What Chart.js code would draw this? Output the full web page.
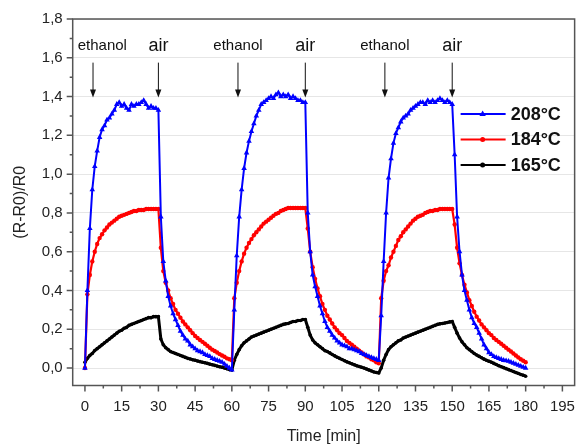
<!DOCTYPE html>
<html>
<head>
<meta charset="utf-8">
<script src="https://cdn.jsdelivr.net/npm/chart.js@4/dist/chart.umd.min.js"></script>
<style>
  html, body { margin: 0; padding: 0; background: #fff; }
  canvas { display: block; }
</style>
</head>
<body>
<canvas id="sensorChart" width="587" height="447"></canvas>
<script>
// sampled every minute, t = 0 .. 180 min
const temp208 = [
  0.00, 0.40, 0.72, 0.92, 1.04, 1.12, 1.19, 1.23, 1.25, 1.28,
  1.29, 1.31, 1.33, 1.36, 1.37, 1.35, 1.36, 1.34, 1.33, 1.36,
  1.35, 1.36, 1.36, 1.37, 1.38, 1.36, 1.34, 1.35, 1.34, 1.34,
  1.33, 0.78, 0.55, 0.45, 0.37, 0.32, 0.28, 0.25, 0.22, 0.19,
  0.17, 0.15, 0.14, 0.12, 0.11, 0.10, 0.09, 0.085, 0.08, 0.07,
  0.065, 0.06, 0.05, 0.045, 0.04, 0.035, 0.03, 0.02, 0.01, 0.00,
  -0.01, 0.30, 0.58, 0.78, 0.92, 1.03, 1.11, 1.17, 1.22, 1.26,
  1.30, 1.33, 1.36, 1.37, 1.38, 1.39, 1.40, 1.39, 1.41, 1.42,
  1.40, 1.41, 1.40, 1.41, 1.39, 1.40, 1.39, 1.38, 1.38, 1.37,
  1.37, 0.80, 0.60, 0.48, 0.42, 0.37, 0.32, 0.28, 0.24, 0.21,
  0.19, 0.17, 0.155, 0.14, 0.13, 0.12, 0.115, 0.11, 0.10, 0.10,
  0.095, 0.09, 0.085, 0.075, 0.07, 0.065, 0.06, 0.055, 0.05, 0.045,
  0.04, 0.27, 0.55, 0.80, 0.98, 1.08, 1.16, 1.21, 1.24, 1.27,
  1.29, 1.30, 1.31, 1.33, 1.34, 1.35, 1.36, 1.37, 1.37, 1.36,
  1.38, 1.37, 1.38, 1.37, 1.38, 1.39, 1.38, 1.37, 1.38, 1.37,
  1.36, 1.10, 0.78, 0.60, 0.48, 0.40, 0.35, 0.30, 0.26, 0.23,
  0.21, 0.18, 0.15, 0.12, 0.10, 0.08, 0.07, 0.06, 0.055, 0.05,
  0.045, 0.04, 0.038, 0.035, 0.03, 0.025, 0.02, 0.015, 0.01, 0.005,
  0.00
];

const temp184 = [
  0.00, 0.38, 0.48, 0.55, 0.60, 0.64, 0.67, 0.69, 0.71, 0.725,
  0.74, 0.75, 0.76, 0.77, 0.78, 0.785, 0.79, 0.795, 0.80, 0.805,
  0.81, 0.81, 0.815, 0.815, 0.815, 0.82, 0.82, 0.82, 0.82, 0.82,
  0.82, 0.62, 0.50, 0.44, 0.40, 0.36, 0.33, 0.30, 0.28, 0.26,
  0.24, 0.225, 0.21, 0.195, 0.18, 0.165, 0.155, 0.145, 0.135, 0.125,
  0.115, 0.105, 0.095, 0.088, 0.08, 0.072, 0.065, 0.058, 0.05, 0.045,
  0.04, 0.36, 0.44, 0.50, 0.55, 0.59, 0.62, 0.645, 0.665, 0.685,
  0.70, 0.715, 0.73, 0.745, 0.755, 0.765, 0.775, 0.785, 0.795, 0.80,
  0.81, 0.815, 0.82, 0.825, 0.825, 0.825, 0.825, 0.825, 0.825, 0.825,
  0.825, 0.72, 0.60, 0.52, 0.46, 0.41, 0.37, 0.33, 0.30, 0.27,
  0.25, 0.23, 0.21, 0.195, 0.18, 0.17, 0.155, 0.14, 0.13, 0.12,
  0.11, 0.10, 0.09, 0.08, 0.07, 0.06, 0.055, 0.045, 0.04, 0.03,
  0.025, 0.36, 0.45, 0.50, 0.53, 0.57, 0.60, 0.63, 0.66, 0.68,
  0.70, 0.715, 0.73, 0.745, 0.76, 0.77, 0.78, 0.785, 0.79, 0.80,
  0.805, 0.81, 0.81, 0.815, 0.815, 0.82, 0.82, 0.82, 0.82, 0.82,
  0.82, 0.74, 0.62, 0.54, 0.48, 0.43, 0.39, 0.35, 0.32, 0.29,
  0.265, 0.245, 0.225, 0.21, 0.195, 0.18, 0.17, 0.155, 0.145, 0.135,
  0.125, 0.115, 0.105, 0.095, 0.085, 0.075, 0.065, 0.055, 0.045, 0.038,
  0.03
];

const temp165 = [
  0.03, 0.05, 0.065, 0.075, 0.09, 0.10, 0.11, 0.12, 0.13, 0.14,
  0.15, 0.16, 0.17, 0.18, 0.19, 0.195, 0.205, 0.21, 0.22, 0.225,
  0.23, 0.235, 0.24, 0.245, 0.25, 0.255, 0.26, 0.26, 0.265, 0.265,
  0.265, 0.15, 0.12, 0.105, 0.095, 0.085, 0.08, 0.075, 0.07, 0.065,
  0.06, 0.055, 0.05, 0.047, 0.043, 0.04, 0.036, 0.033, 0.03, 0.027,
  0.024, 0.02, 0.017, 0.014, 0.01, 0.007, 0.004, 0.00, -0.004, -0.008,
  -0.01, 0.04, 0.07, 0.095, 0.115, 0.13, 0.14, 0.15, 0.16, 0.165,
  0.17, 0.175, 0.18, 0.185, 0.19, 0.195, 0.20, 0.205, 0.21, 0.215,
  0.22, 0.225, 0.228, 0.23, 0.235, 0.24, 0.24, 0.245, 0.245, 0.25,
  0.25, 0.21, 0.17, 0.145, 0.13, 0.12, 0.11, 0.10, 0.09, 0.085,
  0.078, 0.07, 0.063, 0.056, 0.05, 0.044, 0.038, 0.032, 0.027, 0.022,
  0.017, 0.012, 0.008, 0.004, 0.00, -0.005, -0.01, -0.015, -0.02, -0.023,
  -0.025, 0.00, 0.04, 0.07, 0.095, 0.11, 0.12, 0.13, 0.14, 0.145,
  0.155, 0.16, 0.165, 0.17, 0.175, 0.18, 0.185, 0.19, 0.195, 0.20,
  0.205, 0.21, 0.215, 0.22, 0.225, 0.228, 0.23, 0.232, 0.235, 0.238,
  0.24, 0.21, 0.18, 0.155, 0.135, 0.12, 0.105, 0.095, 0.085, 0.075,
  0.067, 0.06, 0.053, 0.046, 0.04, 0.035, 0.03, 0.024, 0.018, 0.012,
  0.007, 0.002, -0.003, -0.008, -0.013, -0.018, -0.023, -0.028, -0.033, -0.037,
  -0.042
];

const seriesLabels = ['208°C', '184°C', '165°C'];

const xTickValues = [0, 15, 30, 45, 60, 75, 90, 105, 120, 135, 150, 165, 180, 195];
const yTickValues = [0, 0.2, 0.4, 0.6, 0.8, 1.0, 1.2, 1.4, 1.6, 1.8];

// gas switching events
const eventTimes = [3.3, 30, 62.5, 90, 122.5, 150];
const eventLabels = ['ethanol', 'air', 'ethanol', 'air', 'ethanol', 'air'];

const time = temp208.map((_, i) => i);
const toPoints = arr => arr.map((v, i) => ({ x: time[i], y: v }));

const FONT = "'Liberation Sans', Arial, sans-serif";
const AXIS = '#555';

function midpoints(vals) {
    const out = [];
    for (let i = 0; i < vals.length - 1; i++) out.push((vals[i] + vals[i + 1]) / 2);
    return out;
}
const xMinor = midpoints(xTickValues);
const yMinor = midpoints(yTickValues);

const overlay = {
    id: 'overlay',
    afterDraw(chart) {
        const { ctx, chartArea: a, scales: { x, y } } = chart;
        ctx.save();

        // frame
        ctx.strokeStyle = AXIS;
        ctx.lineWidth = 1.5;
        ctx.strokeRect(a.left, a.top, a.right - a.left, a.bottom - a.top);

        // tick marks, outward
        ctx.beginPath();
        yTickValues.forEach(v => { const p = y.getPixelForValue(v); ctx.moveTo(a.left, p); ctx.lineTo(a.left - 6, p); });
        yMinor.forEach(v => { const p = y.getPixelForValue(v); ctx.moveTo(a.left, p); ctx.lineTo(a.left - 3, p); });
        xTickValues.forEach(v => { const p = x.getPixelForValue(v); ctx.moveTo(p, a.bottom); ctx.lineTo(p, a.bottom + 6); });
        xMinor.forEach(v => { const p = x.getPixelForValue(v); ctx.moveTo(p, a.bottom); ctx.lineTo(p, a.bottom + 3); });
        ctx.stroke();

        // event arrows and labels
        ctx.fillStyle = '#111';
        ctx.strokeStyle = '#111';
        ctx.lineWidth = 1;
        ctx.textAlign = 'center';
        ctx.textBaseline = 'middle';
        eventTimes.forEach((t, i) => {
            const px = x.getPixelForValue(t);
            const yTop = y.getPixelForValue(1.575);
            const yTip = y.getPixelForValue(1.395);
            ctx.beginPath();
            ctx.moveTo(px, yTop);
            ctx.lineTo(px, yTip - 6);
            ctx.stroke();
            ctx.beginPath();
            ctx.moveTo(px - 3, yTip - 8);
            ctx.lineTo(px + 3, yTip - 8);
            ctx.lineTo(px, yTip);
            ctx.closePath();
            ctx.fill();

            const isAir = eventLabels[i] === 'air';
            ctx.font = (isAir ? '18px ' : '15px ') + FONT;
            const w = ctx.measureText(eventLabels[i]).width;
            let cx = px;
            if (cx - w / 2 < a.left + 5) cx = a.left + 5 + w / 2;
            ctx.fillText(eventLabels[i], cx, y.getPixelForValue(1.66));
        });

        // legend
        const lx = a.right - 114;
        const ly = a.top + 95;
        chart.data.datasets.forEach((ds, i) => {
            const ry = ly + i * 25.5;
            ctx.strokeStyle = ds.borderColor;
            ctx.fillStyle = ds.borderColor;
            ctx.lineWidth = 2;
            ctx.beginPath();
            ctx.moveTo(lx, ry);
            ctx.lineTo(lx + 45, ry);
            ctx.stroke();
            const mx = lx + 22;
            ctx.beginPath();
            if (ds.pointStyle === 'triangle') {
                ctx.moveTo(mx, ry - 3.5);
                ctx.lineTo(mx + 3.2, ry + 2);
                ctx.lineTo(mx - 3.2, ry + 2);
                ctx.closePath();
            } else {
                ctx.arc(mx, ry, 2.5, 0, Math.PI * 2);
            }
            ctx.fill();
            ctx.fillStyle = '#111';
            ctx.font = 'bold 18px ' + FONT;
            ctx.textAlign = 'left';
            ctx.fillText(ds.label, lx + 50, ry + 1);
        });

        ctx.restore();
    }
};

new Chart(document.getElementById('sensorChart').getContext('2d'), {
    type: 'line',
    data: {
        datasets: [
            {
                label: seriesLabels[0],
                data: toPoints(temp208),
                borderColor: '#0000ff',
                backgroundColor: '#0000ff',
                borderWidth: 2,
                pointStyle: 'triangle',
                pointRadius: 3.2,
                pointBorderWidth: 0,
                tension: 0
            },
            {
                label: seriesLabels[1],
                data: toPoints(temp184),
                borderColor: '#ff0000',
                backgroundColor: '#ff0000',
                borderWidth: 2.2,
                pointStyle: 'circle',
                pointRadius: 2.2,
                pointBorderWidth: 0,
                tension: 0
            },
            {
                label: seriesLabels[2],
                data: toPoints(temp165),
                borderColor: '#000000',
                backgroundColor: '#000000',
                borderWidth: 3,
                pointStyle: 'circle',
                pointRadius: 1.8,
                pointBorderWidth: 0,
                tension: 0
            }
        ]
    },
    options: {
        responsive: false,
        animation: false,
        devicePixelRatio: 1,
        layout: { padding: { top: 13, right: 1.3, left: 0, bottom: 0 } },
        plugins: {
            legend: { display: false },
            tooltip: { enabled: false }
        },
        scales: {
            x: {
                type: 'linear',
                min: -5,
                max: 200,
                afterFit: s => { s.height = 61.5; },
                afterBuildTicks: s => { s.ticks = xTickValues.map(value => ({ value })); },
                grid: { display: false, drawTicks: false },
                border: { display: false },
                ticks: {
                    autoSkip: false,
                    maxRotation: 0,
                    padding: 12,
                    color: '#222',
                    font: { family: FONT, size: 15 }
                },
                title: {
                    display: true,
                    text: 'Time [min]',
                    color: '#222',
                    font: { family: FONT, size: 16 },
                    padding: { top: 0, bottom: 1 }
                }
            },
            y: {
                min: -0.09,
                max: 1.8,
                afterFit: s => { s.width = 72.7; },
                afterBuildTicks: s => { s.ticks = yTickValues.map(value => ({ value })); },
                grid: { color: '#e6e6e6', lineWidth: 1, drawTicks: false },
                border: { display: false },
                ticks: {
                    autoSkip: false,
                    padding: 10,
                    color: '#222',
                    font: { family: FONT, size: 15 },
                    callback: v => v.toFixed(1).replace('.', ',')
                },
                title: {
                    display: true,
                    text: '(R-R0)/R0',
                    color: '#222',
                    font: { family: FONT, size: 16 },
                    padding: { top: 11, bottom: 0 }
                }
            }
        }
    },
    plugins: [overlay]
});
</script>
</body>
</html>
